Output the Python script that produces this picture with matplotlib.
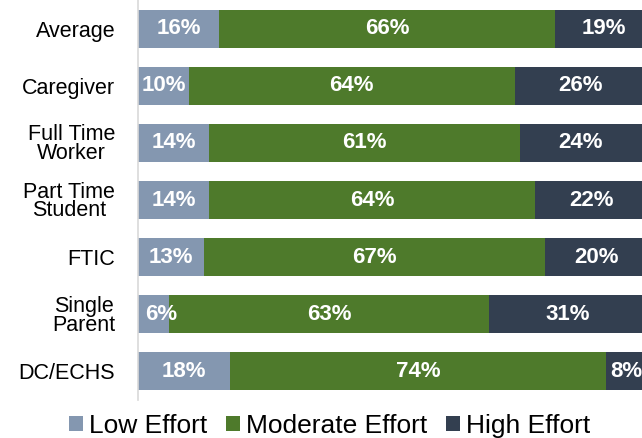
import numpy as np
import matplotlib.pyplot as plt

plt.rcParams['font.family'] = ['Liberation Sans', 'DejaVu Sans']

# Effort shares by student group (percent)
groups = ['Average', 'Caregiver', 'Full Time\nWorker', 'Part Time\nStudent',
          'FTIC', 'Single\nParent', 'DC/ECHS']
low = [16, 10, 14, 14, 13, 6, 18]
moderate = [66, 64, 61, 64, 67, 63, 74]
high = [19, 26, 24, 22, 20, 31, 8]

series = ['Low Effort', 'Moderate Effort', 'High Effort']
colors = ['#8497B0', '#4E7A2B', '#333F50']

fig = plt.figure(figsize=(6.42, 4.38), dpi=100)
ax = fig.add_axes([138 / 642, 1 - 400 / 438, 1 - 138 / 642, 400 / 438])

y = np.arange(len(groups))
left = np.zeros(len(groups))
for name, vals, col in zip(series, [low, moderate, high], colors):
    vals = np.array(vals, dtype=float)
    ax.barh(y, vals, left=left, height=0.665, color=col, label=name)
    for yi, l, v in zip(y, left, vals):
        # keep small labels from hanging over the axis line
        xc = max(l + v / 2, 4.6)
        ax.text(xc, yi, f'{int(v)}%', ha='center', va='center',
                color='white', fontsize=16, fontweight='bold')
    left += vals

ax.set_xlim(0, 99)
ax.set_ylim(len(groups) - 0.5, -0.5)
ax.set_xticks([])
ax.set_yticks(y)
ax.set_yticklabels(groups, fontsize=15.5, linespacing=0.87,
                   multialignment='center')
ax.tick_params(axis='y', length=0, pad=16.5)
for s in ['top', 'right', 'bottom']:
    ax.spines[s].set_visible(False)
ax.spines['left'].set_color('#D9D9D9')
ax.spines['left'].set_linewidth(1.2)

fig.legend(loc='center', bbox_to_anchor=(329.5 / 642, 1 - 426 / 438),
           ncol=3, frameon=False, fontsize=19, handlelength=0.53,
           handleheight=0.53, handletextpad=0.23, columnspacing=0.72,
           borderaxespad=0, borderpad=0)

fig.savefig('out.png', dpi=100)
